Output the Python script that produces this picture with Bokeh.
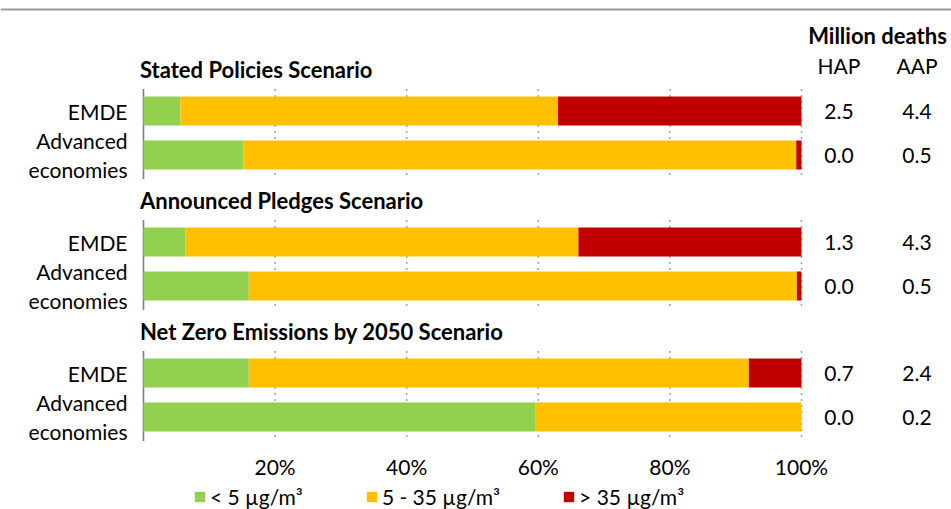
from bokeh.plotting import figure
from bokeh.models import (Range1d, ColumnDataSource, Legend, LegendItem, Span)
from bokeh.core.properties import value
from bokeh.embed import file_html
from bokeh.resources import INLINE

# ---------------- data ----------------
scenarios = ["Stated Policies Scenario", "Announced Pledges Scenario",
             "Net Zero Emissions by 2050 Scenario"]
regions = ["EMDE", "Advanced\neconomies"]
share_below_5 = [5.6, 15.2, 6.4, 16.0, 16.0, 59.6]
share_5_35 = [57.4, 84.0, 59.7, 83.3, 76.0, 40.4]
share_above_35 = [37.0, 0.8, 33.9, 0.7, 8.0, 0.0]
hap_deaths = [2.5, 0.0, 1.3, 0.0, 0.7, 0.0]
aap_deaths = [4.4, 0.5, 4.3, 0.5, 2.4, 0.2]
series_labels = ["< 5 µg/m³", "5 - 35 µg/m³", "> 35 µg/m³"]
x_ticks = [20, 40, 60, 80, 100]
table_title = "Million deaths"
table_columns = ["HAP", "AAP"]

# ---------------- layout / style ----------------
FONT = "Lato"
FS = "21px"
FS_BOLD = "22px"
COLORS = ["#92D050", "#FFC000", "#C00000"]
TEXT_COLOR = "#000000"
W, H = 951, 509
ZERO_PX, PX_PER_PCT = 143.0, 6.58
X0 = -ZERO_PX / PX_PER_PCT
X1 = (W - ZERO_PX) / PX_PER_PCT
FIRST_ROW, GROUP_STEP, ROW_STEP, BAR_H = 110.5, 131.0, 44.0, 29.0
TITLE_OFF = 42.0
TICK_LABEL_Y = 466
LABEL_X = (127 - ZERO_PX) / PX_PER_PCT
TITLE_X = (139.5 - ZERO_PX) / PX_PER_PCT
HAP_X = (838.5 - ZERO_PX) / PX_PER_PCT
AAP_X = (916.5 - ZERO_PX) / PX_PER_PCT
TABLE_X = (877 - ZERO_PX) / PX_PER_PCT

n_reg = len(regions)
row_y = [FIRST_ROW + (i // n_reg) * GROUP_STEP + (i % n_reg) * ROW_STEP
         for i in range(len(share_below_5))]
row_label = [regions[i % n_reg] for i in range(len(row_y))]
group_first = [FIRST_ROW + g * GROUP_STEP for g in range(len(scenarios))]
group_last = [y + (n_reg - 1) * ROW_STEP for y in group_first]

p = figure(width=W, height=H, output_backend="svg",
           toolbar_location=None, x_range=Range1d(X0, X1),
           y_range=Range1d(H, 0), x_axis_location=None, y_axis_location=None,
           min_border=0, min_border_left=0, min_border_right=0,
           min_border_top=0, min_border_bottom=0)
p.outline_line_color = None
p.grid.visible = False
p.background_fill_color = "white"

# top rule
p.add_layout(Span(location=9, dimension="width",
                  line_color="#999999", line_width=2))

# dotted gridlines per panel
gx, gy0, gy1 = [], [], []
for top, bot in zip(group_first, group_last):
    for t in x_ticks:
        gx.append(t)
        gy0.append(top - 22)
        gy1.append(bot + 24)
p.segment(x0=gx, x1=gx, y0=gy0, y1=gy1, line_color="#A6A6A6",
          line_width=1.6, line_dash="2 4")
# left axis spine per panel
p.segment(x0=[0] * len(group_first), x1=[0] * len(group_first),
          y0=[t - 22 for t in group_first], y1=[b + 24 for b in group_last],
          line_color="#7F7F7F", line_width=1.6)

src = ColumnDataSource(dict(y=row_y, low=share_below_5, mid=share_5_35,
                            high=share_above_35))
rs = p.hbar_stack(["low", "mid", "high"], y="y", height=BAR_H,
                  fill_color=COLORS, line_color=None, source=src)

# x tick labels (value axis)
p.text(x=x_ticks, y=[TICK_LABEL_Y] * len(x_ticks), text=[f"{t}%" for t in x_ticks],
       text_font=value(FONT), text_font_size=FS, text_align="center",
       text_baseline="middle", text_color=TEXT_COLOR)

# group titles
p.text(x=[TITLE_X] * len(scenarios), y=[y - TITLE_OFF for y in group_first],
       text=scenarios, text_font=value(FONT), text_font_size=FS_BOLD,
       text_font_style="bold", text_align="left", text_baseline="middle",
       text_color=TEXT_COLOR)
# row labels
p.text(x=[LABEL_X] * len(row_y), y=row_y, text=row_label,
       text_font=value(FONT), text_font_size=FS, text_align="right",
       text_baseline="middle", text_line_height=1.15, text_color=TEXT_COLOR)
# table
p.text(x=[HAP_X] * len(row_y), y=row_y, text=[f"{v:.1f}" for v in hap_deaths],
       text_font=value(FONT), text_font_size=FS, text_align="center",
       text_baseline="middle", text_color=TEXT_COLOR)
p.text(x=[AAP_X] * len(row_y), y=row_y, text=[f"{v:.1f}" for v in aap_deaths],
       text_font=value(FONT), text_font_size=FS, text_align="center",
       text_baseline="middle", text_color=TEXT_COLOR)
p.text(x=[TABLE_X], y=[FIRST_ROW - 76], text=[table_title],
       text_font=value(FONT), text_font_size=FS_BOLD, text_font_style="bold",
       text_align="center", text_baseline="middle", text_color=TEXT_COLOR)
p.text(x=[HAP_X, AAP_X], y=[FIRST_ROW - 46] * 2, text=table_columns,
       text_font=value(FONT), text_font_size=FS, text_align="center",
       text_baseline="middle", text_color=TEXT_COLOR)

legend = Legend(items=[LegendItem(label=l, renderers=[r])
                       for l, r in zip(series_labels, rs)],
                orientation="horizontal", location=(193, 0),
                glyph_width=13, glyph_height=13, label_standoff=4,
                spacing=62, padding=0, margin=0, border_line_color=None,
                background_fill_alpha=0, label_text_font=FONT,
                label_text_font_size=FS, label_text_color=TEXT_COLOR)
p.add_layout(legend, "center")

open("out.html", "w").write(file_html(p, INLINE))
